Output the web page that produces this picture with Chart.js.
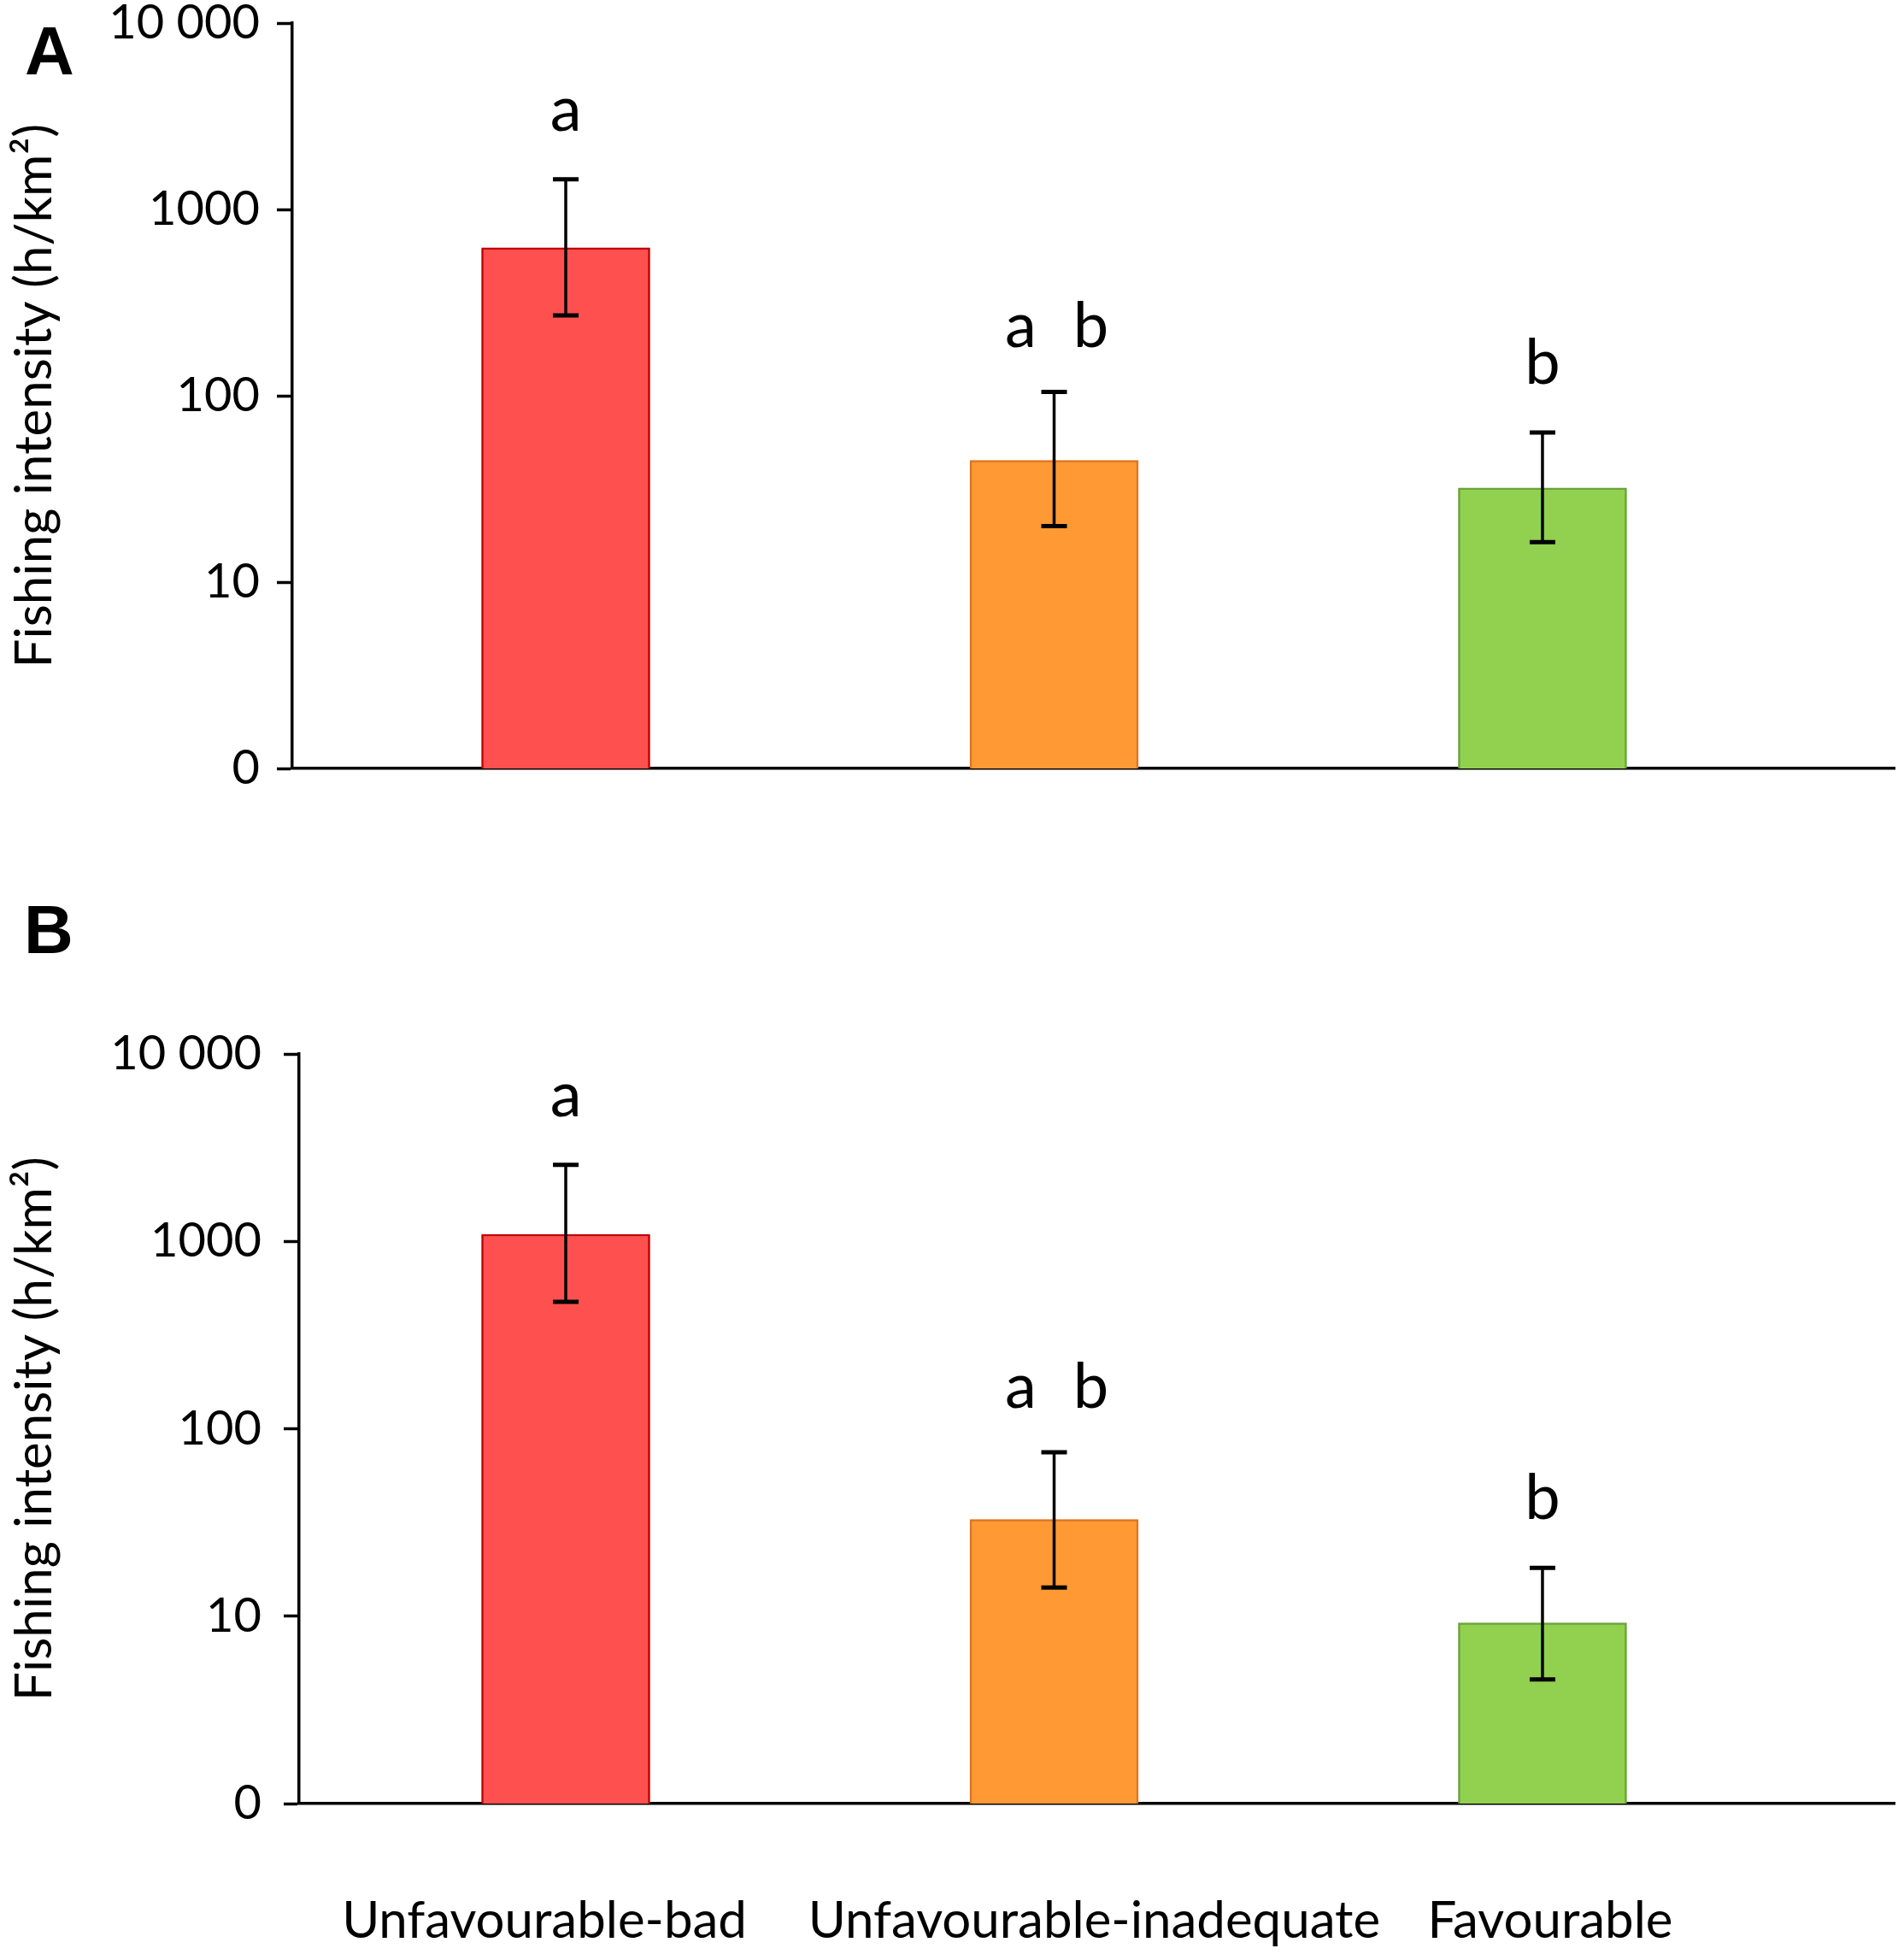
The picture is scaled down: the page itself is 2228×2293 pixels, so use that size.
<!DOCTYPE html>
<html><head><meta charset="utf-8">
<script src="https://cdn.jsdelivr.net/npm/chart.js@4.4.1/dist/chart.umd.min.js"></script>
<style>
html,body{margin:0;padding:0;background:#fff;}
#wrapA{position:absolute;left:0;top:0;width:2228px;height:1000px;}
#wrapB{position:absolute;left:0;top:1000px;width:2228px;height:1293px;}
</style></head><body>
<div id="wrapA"><canvas id="cA"></canvas></div>
<div id="wrapB"><canvas id="cB"></canvas></div>
<script>
const categories = ["Unfavourable-bad", "Unfavourable-inadequate", "Favourable"];
const yTicks = [1, 10, 100, 1000, 10000];
const yTickLabels = ["0", "10", "100", "1000", "10 000"];

const meanA = [622, 45, 32];
const errLowA = [270, 20, 16.4];
const errHighA = [1450, 105, 63.5];
const lettersA = ["a", "a b", "b"];

const meanB = [1090, 32.8, 9.2];
const errLowB = [476, 14.2, 4.6];
const errHighB = [2560, 75, 18.1];
const lettersB = ["a", "a b", "b"];

const fills = ["#FF5050", "#FF9933", "#92D050"];
const borders = ["#C00000", "#DD7420", "#6AA33A"];

// pixel shift of each category label relative to its bar (style only)
const labelShiftPx = [-25, 47, 9];
const UNIT_PX = 571.5;

const errPlugin = {
  id: 'err',
  afterDatasetsDraw(chart, args, o) {
    const {ctx, scales: {x, y}} = chart;
    ctx.save();
    ctx.strokeStyle = '#000';
    ctx.fillStyle = '#000';
    o.low.forEach((lo, i) => {
      const px = x.getPixelForValue(i);
      const yl = y.getPixelForValue(lo), yh = y.getPixelForValue(o.high[i]);
      ctx.lineWidth = 3.5;
      ctx.beginPath(); ctx.moveTo(px, yl); ctx.lineTo(px, yh); ctx.stroke();
      ctx.lineWidth = 5;
      ctx.beginPath();
      ctx.moveTo(px - 15, yl); ctx.lineTo(px + 15, yl);
      ctx.moveTo(px - 15, yh); ctx.lineTo(px + 15, yh);
      ctx.stroke();
      ctx.font = '74px Lato';
      ctx.textAlign = 'center';
      ctx.textBaseline = 'alphabetic';
      const parts = o.letters[i].split(' ');
      if (parts.length === 1) ctx.fillText(parts[0], px, yh - 57);
      else { ctx.fillText(parts[0], px - 39, yh - 52); ctx.fillText(parts[1], px + 43, yh - 52); }
    });
    ctx.font = 'bold 80px "Liberation Sans"';
    ctx.textAlign = 'left';
    ctx.textBaseline = 'alphabetic';
    ctx.fillText(o.panel, o.px, o.py);
    ctx.restore();
  }
};

function makeChart(id, mean, low, high, letters, p) {
  return new Chart(document.getElementById(id), {
    type: 'bar',
    data: {
      datasets: [{
        data: mean.map((v, i) => ({x: i, y: v})),
        backgroundColor: fills,
        borderColor: borders,
        borderWidth: 2.5,
        barThickness: 197
      }]
    },
    options: {
      responsive: true, maintainAspectRatio: false, animation: false,
      layout: {padding: {left: 0, right: 11, top: p.top, bottom: 0}},
      plugins: {
        legend: {display: false}, tooltip: {enabled: false},
        err: {low: low, high: high, letters: letters, panel: p.panel, px: p.px, py: p.py}
      },
      scales: {
        x: {
          type: 'linear', min: p.xmin, max: 2.721, offset: false,
          afterBuildTicks: s => { s.ticks = categories.map((c, i) => ({value: i + labelShiftPx[i] / UNIT_PX})); },
          ticks: {display: p.showX, callback: (v, i) => categories[i], font: {family: 'Lato', size: 60}, color: '#000', padding: 102, maxRotation: 0, autoSkip: false},
          grid: {display: false, drawTicks: false, offset: false},
          border: {display: true, color: '#000', width: 3.5},
          afterFit: s => { s.height = p.xh; }
        },
        y: {
          type: 'logarithmic', min: 1, max: 10000,
          afterBuildTicks: s => { s.ticks = yTicks.map(v => ({value: v})); },
          ticks: {callback: v => yTickLabels[yTicks.indexOf(v)], font: {family: 'Lato', size: 56, lineHeight: 1}, color: '#000', padding: p.ypad, autoSkip: false},
          grid: {display: true, drawOnChartArea: false, drawTicks: true, tickLength: 18, tickWidth: 3.5, tickColor: '#000'},
          border: {display: true, color: '#000', width: 3.5},
          title: {display: true, text: 'Fishing intensity (h/km²)', font: {family: 'Lato', size: 60}, color: '#000', padding: {top: 5, bottom: 0}},
          afterFit: s => { s.width = p.yw; s.paddingTop = 20; s.paddingBottom = 20; }
        }
      }
    },
    plugins: [errPlugin]
  });
}

makeChart('cA', meanA, errLowA, errHighA, lettersA,
  {top: 27, xmin: -0.560, xh: 101, yw: 342, ypad: 20, showX: false, panel: 'A', px: 29, py: 87});
makeChart('cB', meanB, errLowB, errHighB, lettersB,
  {top: 233, xmin: -0.546, xh: 183, yw: 350, ypad: 26, showX: true, panel: 'B', px: 28, py: 115});
</script>
</body></html>
